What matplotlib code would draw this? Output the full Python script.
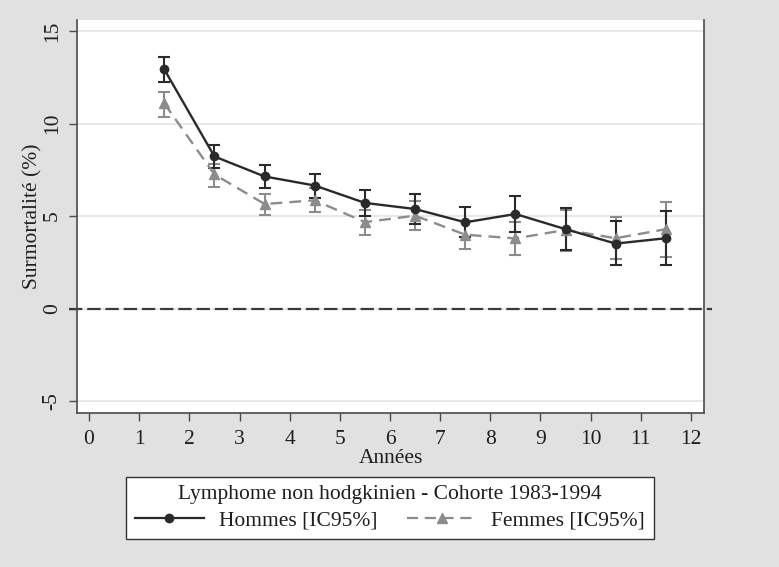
import matplotlib
matplotlib.use("Agg")
import matplotlib.pyplot as plt
from matplotlib.lines import Line2D

plt.rcParams['font.family'] = ['Liberation Serif', 'DejaVu Serif']
plt.rcParams['axes.unicode_minus'] = False

# years (mid-interval)
annees = [1.5, 2.5, 3.5, 4.5, 5.5, 6.5, 7.5, 8.5, 9.5, 10.5, 11.5]

# Hommes: estimate, lower and upper 95% CI
hommes = [12.93, 8.22, 7.14, 6.65, 5.71, 5.38, 4.66, 5.11, 4.29, 3.51, 3.80]
hommes_bas = [12.27, 7.59, 6.54, 6.00, 5.02, 4.57, 3.85, 4.11, 3.15, 2.34, 2.35]
hommes_haut = [13.60, 8.82, 7.75, 7.30, 6.40, 6.20, 5.47, 6.10, 5.42, 4.74, 5.29]

# Femmes
femmes = [11.09, 7.25, 5.65, 5.85, 4.67, 5.02, 3.99, 3.79, 4.25, 3.80, 4.29]
femmes_bas = [10.33, 6.56, 5.05, 5.20, 3.99, 4.24, 3.24, 2.88, 3.10, 2.66, 2.79]
femmes_haut = [11.72, 7.79, 6.21, 6.50, 5.34, 5.80, 4.74, 4.67, 5.35, 4.96, 5.78]

xticks = list(range(0, 13))
yticks = [-5, 0, 5, 10, 15]

bg = '#e1e1e1'
c_h = '#2a2a2a'
c_f = '#8c8c8c'
txt = '#1e1e1e'

fig = plt.figure(figsize=(7.79, 5.67), dpi=100, facecolor=bg)
ax = fig.add_axes([77 / 779, (567 - 413) / 567, (704 - 77) / 779, (413 - 20) / 567])
ax.set_facecolor('white')

ax.set_xlim(-0.24, 12.26)
ax.set_ylim(-5.65, 15.6)

# grid
for y in yticks:
    ax.axhline(y, color='#e4e4e4', lw=1.2, zorder=0)

# zero reference line
ax.plot([-0.4, 12.42], [0, 0], color='#3a3a3a', lw=1.6, ls=(0, (6, 2.2)),
        clip_on=False, zorder=2)

def err(v, lo, hi):
    return [[a - b for a, b in zip(v, lo)], [c - a for a, c in zip(v, hi)]]

ax.errorbar(annees, femmes, yerr=err(femmes, femmes_bas, femmes_haut), fmt='none',
            ecolor=c_f, elinewidth=1.5, capsize=4, capthick=1.5, zorder=3)
ax.errorbar(annees, hommes, yerr=err(hommes, hommes_bas, hommes_haut), fmt='none',
            ecolor=c_h, elinewidth=1.5, capsize=4, capthick=1.5, zorder=4)
ax.plot(annees, femmes, color=c_f, lw=1.7, ls=(0, (5, 3)), marker='^', ms=7, zorder=5)
ax.plot(annees, hommes, color=c_h, lw=1.7, marker='o', ms=6, zorder=6)

# axes look
ax.spines['top'].set_visible(False)
for s in ['left', 'bottom', 'right']:
    ax.spines[s].set_color('#4a4a4a')
    ax.spines[s].set_linewidth(1.2)
ax.set_xticks(xticks)
ax.set_yticks(yticks)
ax.tick_params(axis='both', direction='out', length=6, width=1, color='#4a4a4a',
               labelsize=15.5, labelcolor=txt, pad=5)
ax.tick_params(axis='x', pad=6.5)
ax.tick_params(axis='y', labelrotation=90)
for lab in ax.get_yticklabels():
    lab.set_va('center')

ax.set_xlabel('Années', fontsize=15.5, color=txt, labelpad=0)
ax.set_ylabel('Surmortalité (%)', fontsize=15.5, color=txt, labelpad=0.5)

# legend
h1 = Line2D([], [], color=c_h, lw=1.6, marker='o', ms=6)
h2 = Line2D([], [], color=c_f, lw=1.6, ls=(0, (5, 3)), marker='^', ms=7)
leg = fig.legend([h1, h2], ['Hommes [IC95%]', 'Femmes [IC95%]'], ncol=2,
                 title='Lymphome non hodgkinien - Cohorte 1983-1994',
                 loc='center', bbox_to_anchor=(390 / 779, 1 - 508 / 567),
                 fontsize=15.5, title_fontsize=15.5, frameon=True, fancybox=False,
                 edgecolor='#333333', facecolor='white', framealpha=1,
                 handlelength=3.2, handletextpad=0.7, columnspacing=1.4,
                 borderpad=0.4, labelspacing=0.3, borderaxespad=0)
leg.get_frame().set_linewidth(1.0)
leg.get_title().set_color(txt)
for t in leg.get_texts():
    t.set_color(txt)

fig.savefig('out.png', dpi=100, facecolor=bg)
